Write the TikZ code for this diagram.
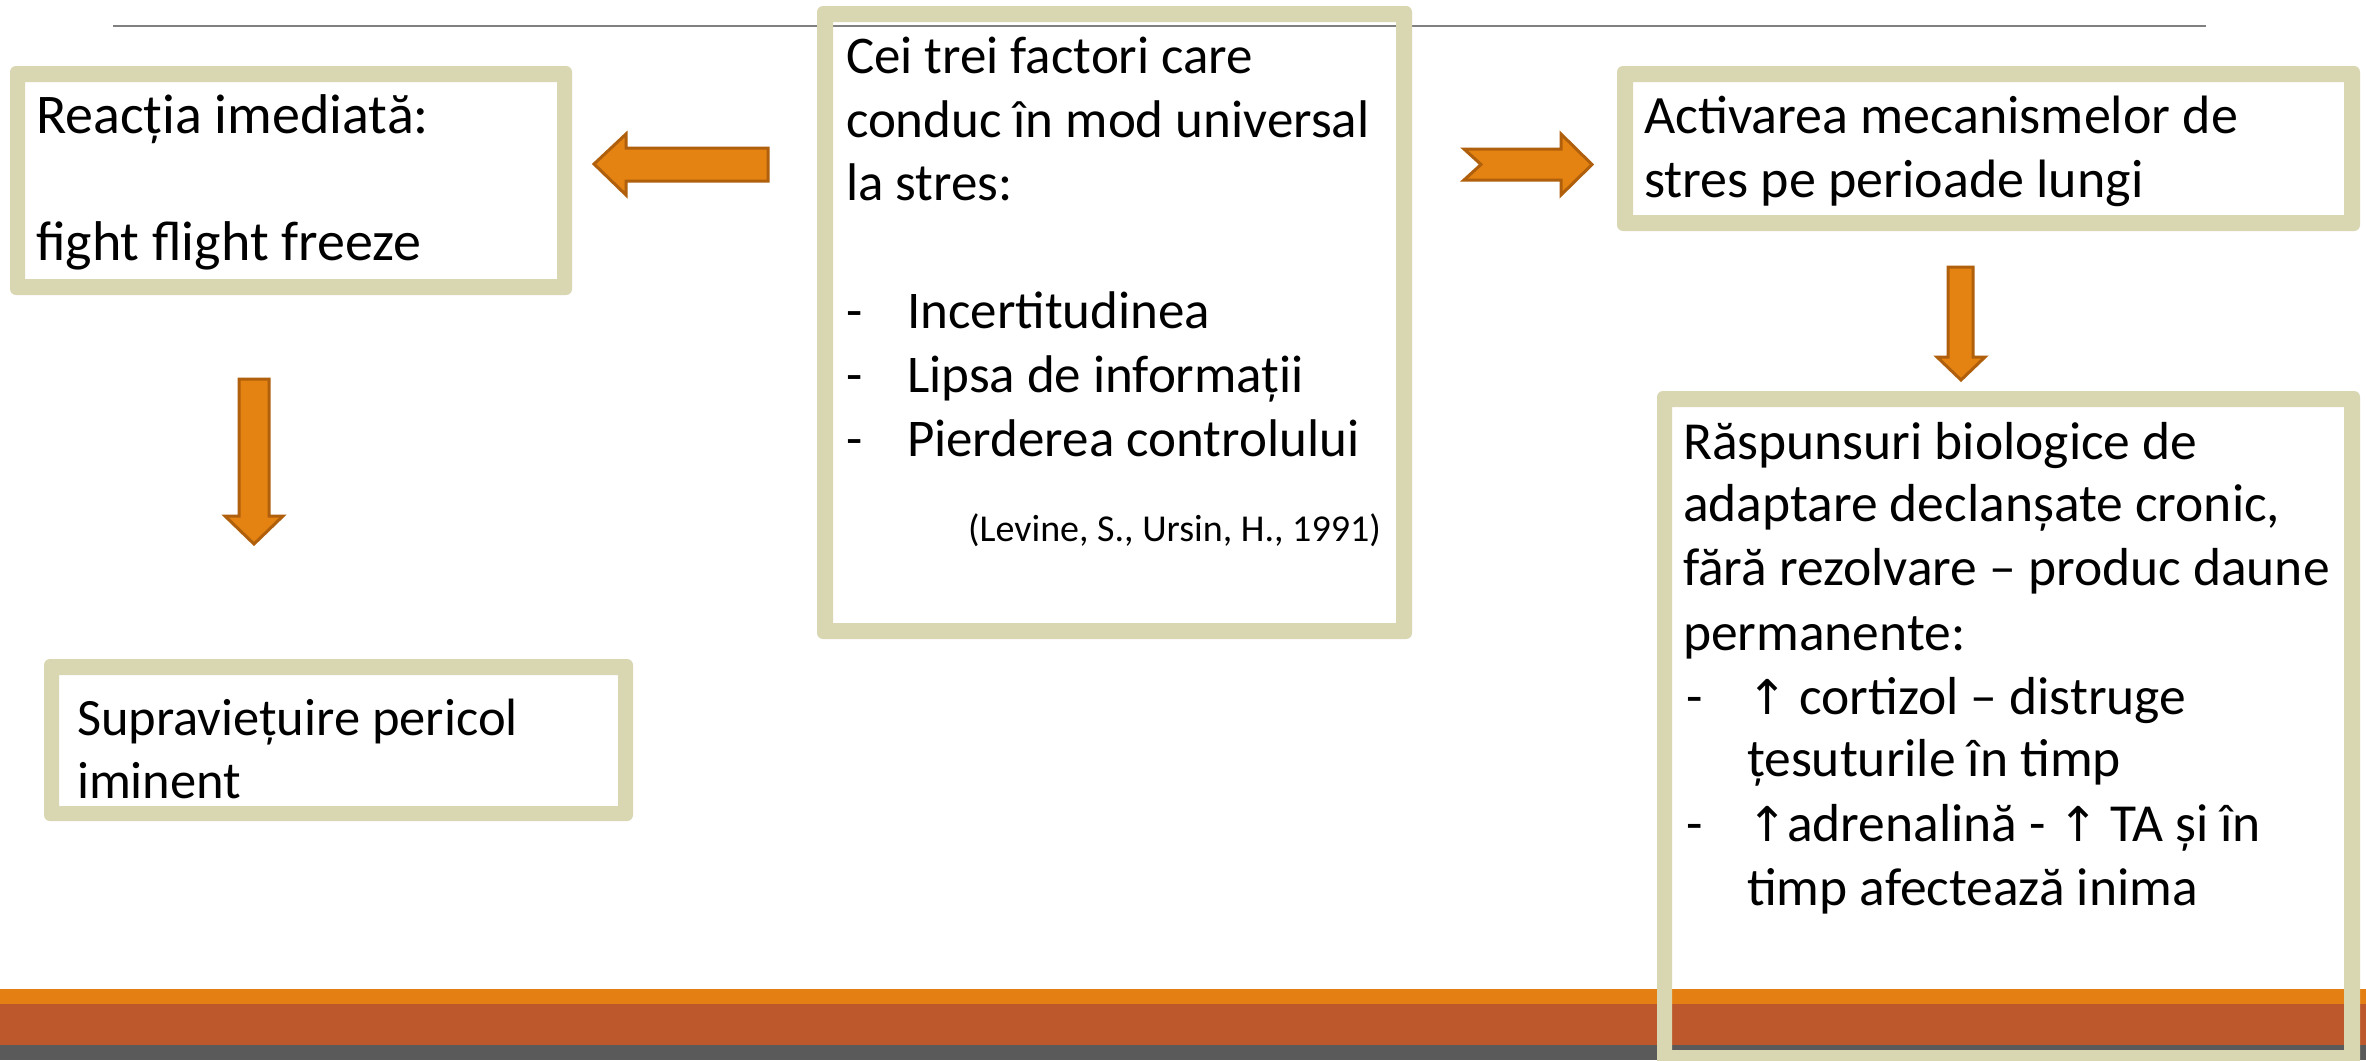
\documentclass[tikz,border=0pt]{standalone}
\usepackage{fontspec}
\setmainfont{Carlito}
\newfontfamily\symfont{DejaVu Sans}
\definecolor{rim}{HTML}{D9D6B2}
\definecolor{arrfill}{HTML}{E48312}
\definecolor{arrline}{HTML}{B0600C}
\definecolor{bandA}{HTML}{E48013}
\definecolor{bandB}{HTML}{BD582C}
\definecolor{bandC}{HTML}{5A5A5A}
\definecolor{rule}{HTML}{808080}
\tikzset{
  txt/.style={anchor=base west, inner sep=0pt, outer sep=0pt, font=\fontsize{53}{62}\selectfont},
  txtA/.style={txt, font=\fontsize{56}{64}\selectfont},
  txtB/.style={txt, font=\fontsize{54}{64}\selectfont},
  txtC/.style={txt, font=\fontsize{52.5}{62}\selectfont},
  txtD/.style={txt, font=\fontsize{53.5}{64}\selectfont},
  cite/.style={anchor=base east, inner sep=0pt, font=\fontsize{38}{44}\selectfont},
  blockarrow/.style={fill=arrfill, draw=arrline, line width=3pt, line join=miter},
  ring/.style={fill=rim, even odd rule}
}
\newcommand{\upar}{{\symfont\fontsize{48}{52}\selectfont ↑}}
\begin{document}
\begin{tikzpicture}[x=1pt,y=-1pt]
\useasboundingbox (0,0) rectangle (2366,1060);
\fill[white] (0,0) rectangle (2366,1060);
% top rule
\draw[rule, line width=2pt] (113,25.5) -- (2206,25.5);
% boxes (rings)
\fill[ring] [rounded corners=6pt] (10,66) rectangle (572,295) [sharp corners] (25,82) rectangle (557,279);
\fill[ring] [rounded corners=6pt] (817,6) rectangle (1412,639) [sharp corners] (833,22) rectangle (1396,623);
\fill[ring] [rounded corners=6pt] (1617,66) rectangle (2360,231) [sharp corners] (1633,82) rectangle (2344,215);
\fill[ring] [rounded corners=6pt] (44,659) rectangle (633,821) [sharp corners] (59,675) rectangle (618,806);
% bottom bands
\fill[bandA] (0,989) rectangle (2366,1004);
\fill[bandB] (0,1004) rectangle (2366,1045);
\fill[bandC] (0,1045) rectangle (2366,1060);
\fill[ring] [rounded corners=6pt] (1657,391) rectangle (2360,1070) [sharp corners] (1672,407) rectangle (2344,1050);
% block arrows
\draw[blockarrow] (594,164) -- (626,134) -- (626,148) -- (768,148) -- (768,181) -- (626,181) -- (626,195) -- cycle;
\draw[blockarrow] (1464,149) -- (1561,149) -- (1561,134) -- (1592,164.5) -- (1561,195) -- (1561,180) -- (1464,180) -- (1481,164.5) -- cycle;
\draw[blockarrow] (1948,267) -- (1973,267) -- (1973,357) -- (1985,357) -- (1961,380) -- (1937,357) -- (1948,357) -- cycle;
\draw[blockarrow] (239,379) -- (269,379) -- (269,516) -- (283,516) -- (254,544) -- (225,516) -- (239,516) -- cycle;
% box A text
\node[txtA] (a1) at (36,133) {Reacția imediată:};
\node[txtA] (a2) at (36,260) {fight flight freeze};
% centre box text
\node[txt] (c1) at (846,73) {Cei trei factori care};
\node[txt] (c2) at (846,137) {conduc în mod universal};
\node[txt] (c3) at (846,200) {la stres:};
\node[txt] (c4d) at (846,328) {-};
\node[txt] (c4) at (907,328) {Incertitudinea};
\node[txt] (c5d) at (846,392) {-};
\node[txt] (c5) at (907,392) {Lipsa de informații};
\node[txt] (c6d) at (846,456) {-};
\node[txt] (c6) at (907,456) {Pierderea controlului};
\node[cite] (cit) at (1381,541) {(Levine, S., Ursin, H., 1991)};
% box B text
\node[txtB] (b1) at (1644,133) {Activarea mecanismelor de};
\node[txtB] (b2) at (1644,197) {stres pe perioade lungi};
% box C text
\node[txtC] (s1) at (77,735) {Supraviețuire pericol};
\node[txtC] (s2) at (77,798) {iminent};
% box D text
\node[txtD] (d1) at (1683,459) {Răspunsuri biologice de};
\node[txtD] (d2) at (1683,521) {adaptare declanșate cronic,};
\node[txtD] (d3) at (1683,585) {fără rezolvare – produc daune};
\node[txtD] (d4) at (1683,650) {permanente:};
\node[txtD] (d5d) at (1686,714) {-};
\node[txtD] (d5) at (1747,714) {\upar{} cortizol – distruge};
\node[txtD] (d6) at (1747,776) {țesuturile în timp};
\node[txtD] (d7d) at (1686,841) {-};
\node[txtD] (d7) at (1747,841) {\upar adrenalină - \upar{} TA și în};
\node[txtD] (d8) at (1747,905) {timp afectează inima};
\end{tikzpicture}
\end{document}
